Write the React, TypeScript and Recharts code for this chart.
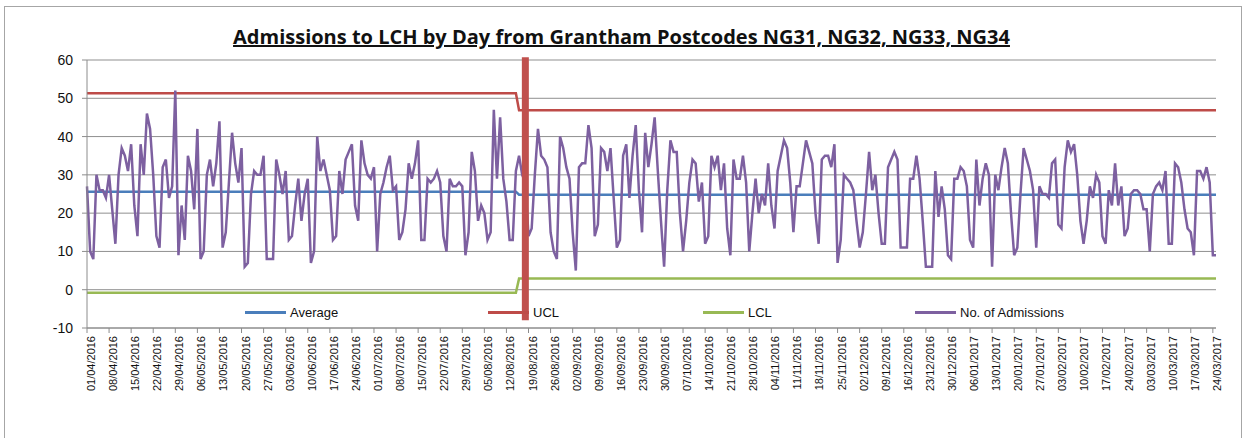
import React from 'react';
import { LineChart, Line, XAxis, YAxis, CartesianGrid, Legend, ReferenceLine } from 'recharts';

// daily admissions, 01/04/2016 .. 25/03/2017 (one row per week, Fri..Thu)
const admissions: number[] = [
  27, 10, 8, 30, 26, 26, 24,
  30, 21, 12, 30, 37, 35, 31,
  38, 22, 14, 38, 30, 46, 42,
  30, 14, 11, 32, 34, 24, 27,
  52, 9, 22, 13, 35, 31, 21,
  42, 8, 10, 30, 34, 27, 33,
  44, 11, 15, 28, 41, 33, 28,
  37, 6, 7, 25, 31, 30, 30,
  35, 8, 8, 8, 34, 30, 25,
  31, 13, 14, 22, 29, 18, 25,
  29, 7, 10, 40, 31, 34, 30,
  26, 13, 14, 31, 25, 34, 36,
  38, 22, 18, 39, 33, 30, 29,
  32, 10, 25, 28, 32, 35, 26,
  27, 13, 15, 21, 33, 29, 33,
  39, 13, 13, 29, 28, 29, 31,
  28, 14, 10, 29, 27, 27, 28,
  27, 9, 15, 36, 31, 18, 22,
  20, 13, 15, 47, 29, 45, 29,
  23, 13, 13, 31, 35, 30, 28,
  14, 16, 30, 42, 35, 34, 32,
  15, 10, 8, 40, 37, 32, 29,
  15, 5, 32, 33, 33, 43, 37,
  14, 17, 37, 36, 31, 37, 24,
  11, 13, 35, 38, 24, 35, 43,
  26, 15, 41, 32, 38, 45, 31,
  18, 6, 26, 39, 36, 36, 20,
  10, 18, 28, 34, 33, 23, 28,
  12, 14, 35, 32, 35, 26, 33,
  16, 9, 34, 29, 29, 35, 28,
  10, 20, 29, 20, 25, 22, 33,
  22, 16, 31, 35, 39, 37, 28,
  15, 27, 27, 33, 39, 36, 33,
  20, 12, 34, 35, 35, 32, 38,
  7, 13, 30, 29, 28, 26, 18,
  11, 15, 25, 36, 26, 30, 20,
  12, 12, 32, 34, 36, 34, 11,
  11, 11, 29, 29, 35, 29, 18,
  6, 6, 6, 31, 19, 27, 21,
  9, 8, 29, 29, 32, 31, 27,
  13, 11, 34, 22, 29, 33, 30,
  6, 30, 26, 32, 37, 33, 20,
  9, 11, 25, 37, 34, 31, 26,
  11, 27, 25, 25, 24, 33, 34,
  17, 16, 32, 39, 36, 38, 30,
  18, 12, 18, 27, 24, 30, 28,
  14, 12, 26, 22, 33, 22, 27,
  14, 16, 25, 26, 26, 25, 21,
  21, 10, 25, 27, 28, 26, 31,
  12, 12, 33, 32, 28, 21, 16,
  15, 9, 31, 31, 29, 32, 28,
  9, 9,
];

// control limits before / after the change point
const averageByPhase = [25.6, 24.8];
const uclByPhase = [51.3, 46.9];
const lclByPhase = [-0.8, 2.9];
const PHASE_BREAK = 137; // first day of second phase
const MARKER_DAY = 139;

const yTicks = [-10, 0, 10, 20, 30, 40, 50, 60];
const legendOrder = ['Average', 'UCL', 'LCL', 'No. of Admissions'];

const START = Date.UTC(2016, 3, 1);
const pad = (n: number) => (n < 10 ? '0' + n : '' + n);
const dates = admissions.map((_, i) => {
  const d = new Date(START + i * 86400000);
  return `${pad(d.getUTCDate())}/${pad(d.getUTCMonth() + 1)}/${d.getUTCFullYear()}`;
});

const chartData = dates.map((date, i) => {
  const p = i < PHASE_BREAK ? 0 : 1;
  return {
    date,
    average: averageByPhase[p],
    ucl: uclByPhase[p],
    lcl: lclByPhase[p],
    admissions: admissions[i],
  };
});

const FONT = '"Liberation Sans", Arial, sans-serif';

const DateTick = (props: any) => {
  const { x, y, payload } = props;
  return (
    <text
      transform={`translate(${x + 8},${y + 1}) rotate(-90)`}
      textAnchor="end"
      fontSize={11}
      fontFamily={FONT}
      fill="#111"
    >
      {payload.value}
    </text>
  );
};

const legendX = [245, 488, 703, 915];

const renderLegend = (props: any) => {
  const payload = [...(props.payload || [])].sort(
    (a: any, b: any) => legendOrder.indexOf(a.value) - legendOrder.indexOf(b.value)
  );
  return (
    <div style={{ position: 'relative', width: 1243, height: 20 }}>
      {payload.map((entry: any, i: number) => (
        <div
          key={entry.value}
          style={{ position: 'absolute', left: legendX[i], top: 0, display: 'flex', alignItems: 'center', height: 20 }}
        >
          <span style={{ display: 'inline-block', width: 41, height: 3, background: entry.color }} />
          <span style={{ marginLeft: 4, fontSize: 13, fontFamily: FONT, color: '#111' }}>{entry.value}</span>
        </div>
      ))}
    </div>
  );
};

export default function App() {
  return (
    <div style={{ position: 'absolute', left: 0, top: 0, width: 1243, height: 438, background: '#fff', overflow: 'hidden' }}>
      <div style={{ position: 'absolute', left: 4, top: 6, width: 1236, height: 460, border: '1px solid #a6a6a6' }} />
      <div
        style={{
          position: 'absolute', left: 0, top: 23, width: 1243, textAlign: 'center',
          fontFamily: '"Open Sans", sans-serif', fontWeight: 700, fontSize: 20, color: '#111',
        }}
      >
        <span style={{ textDecoration: 'underline' }}>
          Admissions to LCH by Day from Grantham Postcodes NG31, NG32, NG33, NG34
        </span>
      </div>
      <div style={{ position: 'absolute', left: 0, top: 0 }}>
        <LineChart width={1243} height={438} data={chartData} margin={{ top: 60, right: 27, left: 27, bottom: 40 }}>
          <CartesianGrid vertical={false} stroke="#8f8f8f" />
          <XAxis
            dataKey="date"
            scale="point"
            interval={6}
            height={70}
            tick={<DateTick />}
            tickSize={5}
            stroke="#8c8c8c"
          />
          <YAxis
            domain={[-10, 60]}
            ticks={yTicks}
            width={60}
            tickSize={5}
            tickMargin={9}
            stroke="#8c8c8c"
            tick={{ fontSize: 14, fontFamily: FONT, fill: '#111' }}
          />
          <Legend verticalAlign="middle" content={renderLegend} wrapperStyle={{ top: 302, left: 0, width: 1243 }} />
          <Line dataKey="average" name="Average" stroke="#4a7ebb" strokeWidth={2.5} dot={false} isAnimationActive={false} />
          <Line dataKey="ucl" name="UCL" stroke="#be4b48" strokeWidth={2.5} dot={false} isAnimationActive={false} />
          <Line dataKey="lcl" name="LCL" stroke="#98b954" strokeWidth={2.5} dot={false} isAnimationActive={false} />
          <Line dataKey="admissions" name="No. of Admissions" stroke="#7d60a0" strokeWidth={2.5} dot={false} isAnimationActive={false} />
          <ReferenceLine
            segment={[{ x: dates[MARKER_DAY], y: 60.7 }, { x: dates[MARKER_DAY], y: -8 }]}
            stroke="#c0504d"
            strokeWidth={7}
            ifOverflow="visible"
          />
        </LineChart>
      </div>
    </div>
  );
}
